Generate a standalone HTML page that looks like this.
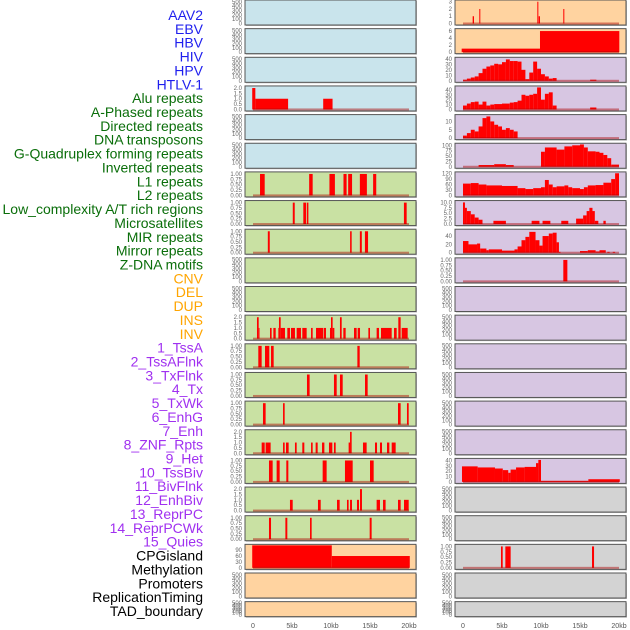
<!DOCTYPE html>
<html><head><meta charset="utf-8"><style>
html,body{margin:0;padding:0;background:#fff;}
svg{display:block;font-family:"Liberation Sans",sans-serif;}
</style></head><body>
<svg id="chart" width="630" height="630" viewBox="0 0 630 630"></svg>
<script>
const labels = ["AAV2","EBV","HBV","HIV","HPV","HTLV-1","Alu repeats","A-Phased repeats","Directed repeats","DNA transposons","G-Quadruplex forming repeats","Inverted repeats","L1 repeats","L2 repeats","Low_complexity A/T rich regions","Microsatellites","MIR repeats","Mirror repeats","Z-DNA motifs","CNV","DEL","DUP","INS","INV","1_TssA","2_TssAFlnk","3_TxFlnk","4_Tx","5_TxWk","6_EnhG","7_Enh","8_ZNF_Rpts","9_Het","10_TssBiv","11_BivFlnk","12_EnhBiv","13_ReprPC","14_ReprPCWk","15_Quies","CPGisland","Methylation","Promoters","ReplicationTiming","TAD_boundary"];
const labelGroups = [6,13,5,15,5];
const groupColors = ["#1f1fee","#0a6e0a","#ffa500","#a030f0","#000000"];
const xTicks = [0,5,10,15,20];
const xTickLabels = ["0","5kb","10kb","15kb","20kb"];

const T500 = ["0","100","200","300","400","500"], V500=[0,100,200,300,400,500];
const T1 = ["0.00","0.25","0.50","0.75","1.00"], V1=[0,0.25,0.5,0.75,1];
const T2 = ["0.0","0.5","1.0","1.5","2.0"], V2=[0,0.5,1,1.5,2];

const L3 = [[-0.1,0.3,2],[0.3,4.5,1],[9.0,10.2,1]];
const L6 = [[0.9,1.5,1],[7.2,7.65,1],[9.8,10.5,1],[11.6,12.0,1],[12.2,12.7,1],[13.7,14.6,1],[15.4,15.8,1]];
const L7 = [[5.1,5.35,1],[6.45,6.8,1],[6.9,7.1,1],[19.35,19.7,1]];
const L8 = [[1.9,2.15,1],[12.45,12.65,1],[13.7,13.95,1],[14.35,14.75,1]];
const L11 = [[0.51,0.73,2],[0.73,0.81,1],[2.18,2.39,1],[2.61,2.91,1],[3.25,3.33,1],[3.33,3.55,2],[3.55,4.1,1],[4.4,4.74,1],[4.87,5.38,1],[5.6,6.15,1],[6.32,6.88,1],[7.44,7.65,1],[8.08,9.02,1],[9.1,9.36,1],[9.87,10.0,1],[10.0,10.21,2],[10.21,10.43,1],[11.15,11.37,2],[11.58,11.88,1],[12.95,13.29,1],[13.42,13.72,1],[14.79,15.0,1],[15.85,16.15,1],[16.41,17.78,1],[18.08,18.42,1],[18.63,18.93,2],[19.06,19.83,1]];
const L12 = [[0.68,1.11,1],[1.54,2.09,1],[2.31,2.65,1],[13.38,13.68,1]];
const L13 = [[6.92,7.26,1],[10.38,10.73,1],[11.15,11.5,1],[14.36,14.7,1]];
const L14 = [[1.28,1.62,1],[3.85,4.06,1],[18.59,18.93,1],[19.74,19.96,1]];
const L15 = [[1.11,1.5,1],[1.62,2.26,1],[3.85,4.06,1],[4.23,4.57,1],[5.38,5.6,1],[6.32,6.58,1],[7.44,7.65,1],[8.03,8.29,1],[8.85,9.15,1],[9.74,10.17,1],[10.38,10.6,1],[12.26,12.44,1],[12.44,12.65,2],[14.1,14.57,1],[15.64,15.9,1],[16.28,16.54,1],[17.18,17.48,1],[17.78,18.29,1]];
const L16 = [[2.05,2.52,1],[3.03,3.42,1],[4.27,4.53,1],[8.93,9.44,1],[11.79,12.78,1],[15.0,15.47,1]];
const L17 = [[4.74,5.09,1],[8.33,8.68,1],[10.77,11.11,1],[12.05,12.26,1],[12.44,12.69,1],[13.33,13.59,1],[13.72,13.97,2],[15.85,16.28,1],[16.67,17.0,1],[18.59,18.93,1],[19.36,19.96,1]];
const L18 = [[2.05,2.31,1],[4.15,4.4,1],[7.31,7.52,1],[14.96,15.21,1]];
const L19 = [[-0.1,10.1,114],[10.1,20.1,60]];

const R0 = [[1.24,1.41,1],[2.09,2.22,2],[9.53,9.66,3],[9.7,9.87,1],[12.86,12.99,2]];
const R1 = [[-0.17,9.87,1],[9.87,20.04,6]];
const R2 = [[0,0.5,2],[0.5,1,4],[1,1.5,6],[1.5,2,8],[2,2.5,14],[2.5,3,22],[3,3.5,26],[3.5,4,28],[4,4.5,31],[4.5,5,30],[5,5.5,34],[5.5,6,39],[6,6.5,36],[6.5,7,36],[7,7.5,35],[7.5,8,20],[8,8.5,3],[8.5,9,15],[9,9.5,35],[9.5,10,22],[10,10.5,12],[10.5,11,8],[11,11.5,4],[11.5,12,5],[16.3,17.1,2]];
const R3 = [[0,0.5,8],[0.5,1,12],[1,1.5,15],[1.5,2,16],[2,2.5,10],[2.5,3,16],[3,3.5,8],[3.5,4,10],[4,5,11],[5,6,12],[6,6.5,14],[6.5,7,15],[7,7.5,18],[7.5,8,30],[8,8.5,28],[8.5,9,30],[9,9.5,32],[9.5,10,45],[10,10.5,20],[10.5,11,32],[11,11.5,35],[11.5,12,8],[16.3,17.1,4]];
const R4 = [[0,0.5,1.5],[0.5,1,3],[1,1.5,5],[1.5,2,4],[2,2.5,7],[2.5,3,12],[3,3.5,13],[3.5,4,10],[4,4.5,8],[4.5,5,7],[5,5.5,5],[5.5,6,6],[6,6.5,5],[6.5,7,4]];
const R5 = [[2,4,8],[4,5.5,12],[5.5,6.5,8],[10,10.5,70],[10.5,12,90],[12,13,80],[13,14,95],[14,15,100],[15,15.5,104],[15.5,16,90],[16,17,72],[17,17.5,70],[17.5,18,65],[18,18.5,55],[18.5,19,40],[19,20,10]];
const R6 = [[0,1,65],[1,2,68],[2,3,60],[3,5,55],[5,7,52],[7,8,40],[8,9,35],[9,10,40],[10,10.5,45],[10.5,11,85],[11,11.5,60],[11.5,12,45],[12,13,50],[13,13.5,55],[13.5,14,45],[14,15,40],[15,15.5,35],[15.5,16,45],[16,17,55],[17,18,57],[18,19,70],[19,19.5,90],[19.5,20,122]];
const R7 = [[0,0.25,10],[0.25,0.5,7.5],[0.5,1,6],[1,1.5,4.5],[1.5,2,3],[2,2.5,2],[3.9,5.5,1.5],[8.8,9.8,1.5],[10.2,11.2,1.5],[12.6,13.5,1.5],[14.5,15.4,2.5],[15.4,15.85,4],[15.85,16.2,6],[16.2,16.6,7.5],[16.6,16.9,6],[16.9,17.35,1.5],[18,18.3,1.5]];
const R8 = [[0,0.7,28],[0.7,1.8,20],[1.8,2.2,22],[2.2,3,10],[3,3.3,6],[3.3,5,8],[5,6.6,5],[6.6,7,8],[7,7.5,15],[7.5,8,30],[8,8.5,38],[8.5,9.3,50],[9.3,9.8,30],[9.8,10.2,17],[10.2,11,40],[11,11.5,46],[11.5,12,48],[12,12.3,25],[12.3,12.5,2],[15,16,4],[16,17,6],[17,17.5,3],[17.5,18.3,6],[18.5,18.8,2],[19.2,19.5,2]];
const R9 = [[12.86,13.38,1]];
const R16 = [[-0.13,1.88,29],[1.88,4.1,27],[4.1,5.1,25],[5.1,5.8,22],[5.8,6.1,17],[6.1,6.8,23],[6.8,7.9,27],[7.9,9.36,28],[9.36,9.66,35],[9.66,10,41],[10,16.07,2],[16.07,20.1,5]];
const R19 = [[4.87,5.09,1],[5.43,6.11,1],[16.54,16.8,1]];

const BLUE="#c9e4ec", GREEN="#c9e1a3", ORANGE="#ffd3a0", PURPLE="#d7c6e2", GRAY="#d3d3d3";
function P(bg, ticks, tl, ymax, segs){return {bg:bg,ticks:ticks,tl:tl,ymax:ymax,segs:segs};}
const E=(bg)=>P(bg,V500,T500,520,[]);
const leftPanels = [E(BLUE),E(BLUE),E(BLUE),P(BLUE,V2,T2,2.1,L3),E(BLUE),E(BLUE),
 P(GREEN,V1,T1,1.05,L6),P(GREEN,V1,T1,1.05,L7),P(GREEN,V1,T1,1.05,L8),E(GREEN),E(GREEN),
 P(GREEN,V2,T2,2.1,L11),P(GREEN,V1,T1,1.05,L12),P(GREEN,V1,T1,1.05,L13),P(GREEN,V1,T1,1.05,L14),
 P(GREEN,V2,T2,2.1,L15),P(GREEN,V1,T1,1.05,L16),P(GREEN,V2,T2,2.1,L17),P(GREEN,V1,T1,1.05,L18),
 P(ORANGE,[0,30,60,90],["0","30","60","90"],114,L19),E(ORANGE),E(ORANGE)];
const rightPanels = [P(ORANGE,[0,1,2,3],["0","1","2","3"],3.1,R0),P(ORANGE,[0,2,4,6],["0","2","4","6"],6.4,R1),
 P(PURPLE,[0,10,20,30,40],["0","10","20","30","40"],41,R2),P(PURPLE,[0,10,20,30,40],["0","10","20","30","40"],46,R3),
 P(PURPLE,[0,5,10],["0","5","10"],13.5,R4),P(PURPLE,[0,25,50,75,100],["0","25","50","75","100"],105,R5),
 P(PURPLE,[0,30,60,90,120],["0","30","60","90","120"],124,R6),P(PURPLE,[0,2.5,5,7.5,10],["0.0","2.5","5.0","7.5","10.0"],10.4,R7),
 P(PURPLE,[0,20,40],["0","20","40"],54,R8),P(PURPLE,V1,T1,1.05,R9),
 E(PURPLE),E(PURPLE),E(PURPLE),E(PURPLE),E(PURPLE),E(PURPLE),
 P(PURPLE,[0,10,20,30,40],["0","10","20","30","40"],42,R16),
 E(GRAY),E(GRAY),P(GRAY,V1,T1,1.05,R19),E(GRAY),E(GRAY)];

const NS="http://www.w3.org/2000/svg";
const svg=document.getElementById('chart');
function mk(tag,attrs,parent){const e=document.createElementNS(NS,tag);for(const k in attrs)e.setAttribute(k,attrs[k]);(parent||svg).appendChild(e);return e;}

let li=0;
labelGroups.forEach((n,g)=>{for(let k=0;k<n;k++){
  const t=mk('text',{x:203,y:15+li*13.86+5,'text-anchor':'end','font-size':'14',fill:groupColors[g]});
  t.textContent=labels[li];
  
  
  li++;}});

const rowH=28.65;
function drawPanel(p,col,row){
  const x0=col===0?245:455, w=171;
  const top=row*rowH, h=row===21?15:25;
  const g=mk('g',{});
  
  
  const zero=top+h-1.5, ph=h-2.5;
  const xs=kb=>x0+8+kb*7.8;
  const ys=v=>zero-v/p.ymax*ph;
  mk('rect',{x:x0+1,y:top+1,width:w,height:h,fill:'#bbb'},g);
  mk('rect',{x:x0,y:top,width:w,height:h,fill:p.bg,stroke:'#555','stroke-width':1},g);
  p.segs.forEach(s=>{
    const r=mk('rect',{x:xs(s[0]),y:ys(s[2]),width:Math.max(0.8,xs(s[1])-xs(s[0])),height:zero-ys(s[2]),fill:'#ff0000'},g);
    
    
  });
  if(p.segs.length) mk('rect',{x:xs(0),y:zero-1,width:xs(20)-xs(0),height:2,fill:'rgba(170,0,0,0.45)'},g);
  p.ticks.forEach((v,i)=>{
    const t=mk('text',{x:x0-3,y:ys(v)+2,'text-anchor':'end','font-size':'6',fill:'#666'},g);
    t.textContent=p.tl[i];
    
    
  });
}
leftPanels.forEach((p,i)=>drawPanel(p,0,i));
rightPanels.forEach((p,i)=>drawPanel(p,1,i));
[245,455].forEach(x0=>{
  xTicks.forEach((v,i)=>{
    const t=mk('text',{x:x0+8+v*7.8,y:628,'text-anchor':'middle','font-size':'7',fill:'#555'});
    t.textContent=xTickLabels[i];
    
    
  });
});
</script>
</body></html>
